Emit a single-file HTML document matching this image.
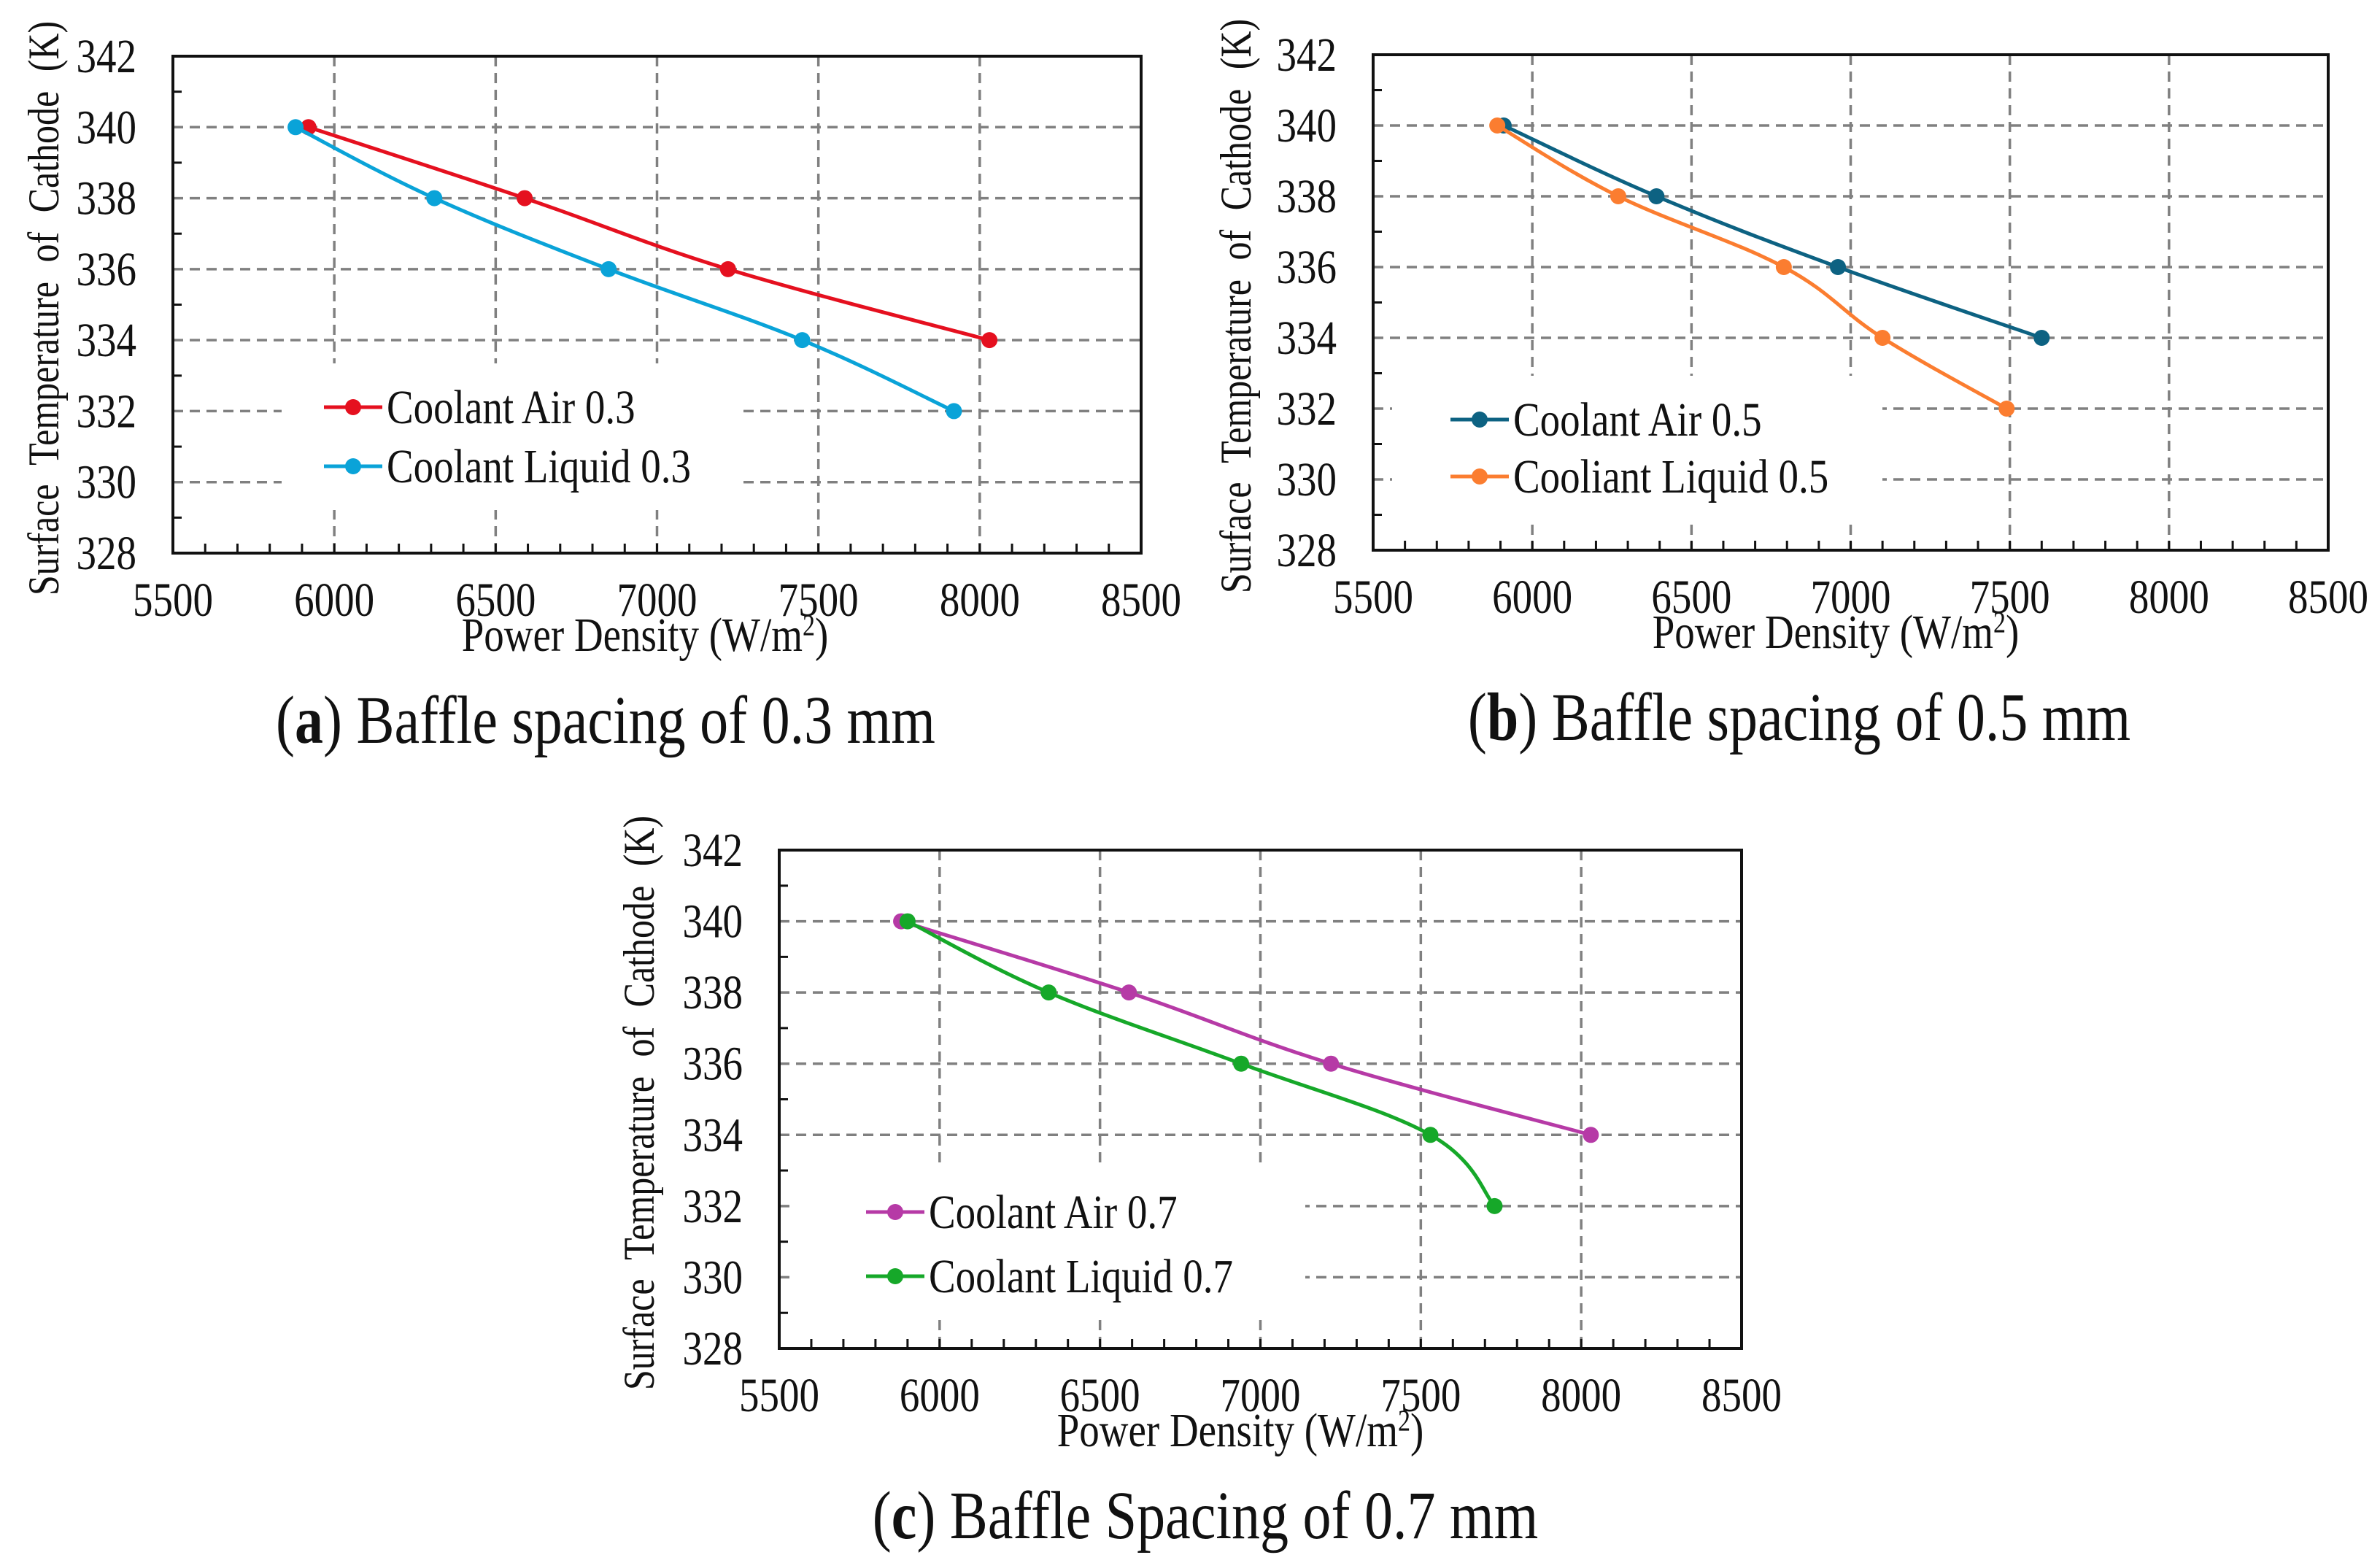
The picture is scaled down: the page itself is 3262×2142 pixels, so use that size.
<!DOCTYPE html>
<html><head><meta charset="utf-8"><style>
html,body{margin:0;padding:0;background:#fff;width:3262px;height:2142px;overflow:hidden}
svg{display:block}
text{font-family:"Liberation Serif",serif;fill:#111}
</style></head><body>
<svg id="fig" width="3262" height="2142"></svg>
<script>
const xTicks=[5500,6000,6500,7000,7500,8000,8500];
const yTicks=[328,330,332,334,336,338,340,342];
const aAirX=[5920,6590,7220,8030], aAirY=[340,338,336,334];
const aLiqX=[5880,6310,6850,7450,7920], aLiqY=[340,338,336,334,332];
const bAirX=[5910,6390,6960,7600], bAirY=[340,338,336,334];
const bLiqX=[5890,6270,6790,7100,7490], bLiqY=[340,338,336,334,332];
const cAirX=[5880,6590,7220,8030], cAirY=[340,338,336,334];
const cLiqX=[5900,6340,6940,7530,7730], cLiqY=[340,338,336,334,332];

const NS="http://www.w3.org/2000/svg";
const svg=document.getElementById('fig');
const SY=1.2;
function mk(tag,attrs,parent){const e=document.createElementNS(NS,tag);for(const k in attrs)e.setAttribute(k,attrs[k]);(parent||svg).appendChild(e);return e;}
function txt(x,y,size,anchor,parent){return mk('text',{x:0,y:0,'text-anchor':anchor,'font-size':size,transform:`translate(${x},${y}) scale(1,${SY})`},parent);}
function smooth(p){let d=`M${p[0][0]},${p[0][1]}`;for(let i=0;i<p.length-1;i++){const p0=p[i-1]||p[i],p1=p[i],p2=p[i+1],p3=p[i+2]||p2;const t=0.18;d+=` C${p1[0]+(p2[0]-p0[0])*t},${p1[1]+(p2[1]-p0[1])*t} ${p2[0]-(p3[0]-p1[0])*t},${p2[1]-(p3[1]-p1[1])*t} ${p2[0]},${p2[1]}`;}return d;}

function panel(cfg){
  const g=mk('g',{});
  
  
  const L=cfg.L,R=cfg.R,T=cfg.T,B=cfg.B;
  const sx=v=>L+(v-5500)/(8500-5500)*(R-L);
  const sy=v=>B-(v-328)/(342-328)*(B-T);
  xTicks.slice(1,-1).forEach(v=>{const l=mk('line',{x1:sx(v),x2:sx(v),y1:T,y2:B,stroke:'#808080','stroke-width':3.5,'stroke-dasharray':'14 9'},g);
    });
  yTicks.slice(1,-1).forEach(v=>{const l=mk('line',{x1:L,x2:R,y1:sy(v),y2:sy(v),stroke:'#808080','stroke-width':3.5,'stroke-dasharray':'14 9'},g);
    });
  const lb=mk('rect',{x:cfg.legX0,y:cfg.legY1-60,width:cfg.legX1-cfg.legX0,height:cfg.legY2-cfg.legY1+120,fill:'#fff'},g);
  
  for(let v=5600;v<8500;v+=100){const t=mk('line',{x1:sx(v),x2:sx(v),y1:B,y2:B-13,stroke:'#111','stroke-width':3},g);}
  for(let v=329;v<342;v+=2){const t=mk('line',{x1:L,x2:L+12,y1:sy(v),y2:sy(v),stroke:'#111','stroke-width':3},g);}
  const fr=mk('rect',{x:L,y:T,width:R-L,height:B-T,fill:'none',stroke:'#111','stroke-width':4},g);
  
  xTicks.forEach(v=>{const t=txt(sx(v),B+86,55,'middle',g);t.textContent=v;});
  yTicks.forEach(v=>{const t=txt(L-50,sy(v)+22,55,'end',g);t.textContent=v;});
  const yt=mk('text',{x:0,y:0,'text-anchor':'middle','font-size':50,'word-spacing':14,transform:`translate(${cfg.ytx},${(T+B)/2+5}) rotate(-90) scale(1,${SY})`},g);
  yt.textContent='Surface Temperature of Cathode (K)';
  const xt=txt(cfg.xtx,B+134,55,'middle',g);
  xt.innerHTML='Power Density (W/m<tspan dy="-18" font-size="34">2</tspan><tspan dy="18">)</tspan>';
  
  const cp=txt(cfg.capx,B+260,78,'middle',g);
  cp.innerHTML=`(<tspan font-weight="bold">${cfg.letter}</tspan>) ${cfg.caption}`;
  
  cfg.series.forEach((s,i)=>{
    const pts=s.x.map((v,j)=>[sx(v),sy(s.y[j])]);
    const p=mk('path',{d:smooth(pts),fill:'none',stroke:s.color,'stroke-width':5},g);
    
    pts.forEach(q=>{const c=mk('circle',{cx:q[0],cy:q[1],r:11,fill:s.color},g);});
    const ly=i===0?cfg.legY1:cfg.legY2;
    const ll=mk('line',{x1:cfg.legLx,x2:cfg.legLx+80,y1:ly,y2:ly,stroke:s.color,'stroke-width':5},g);
    
    const lm=mk('circle',{cx:cfg.legLx+40,cy:ly,r:11,fill:s.color},g);
    
    const lt=txt(cfg.legLx+86,ly+22,55,'start',g);
    lt.textContent=s.label;
  });
}
panel({name:'panel-a',letter:'a',caption:'Baffle spacing of 0.3 mm',L:237,R:1564,T:77,B:758,ytx:80,xtx:884,capx:830,
  legX0:386,legX1:1010,legY1:558,legY2:639,legLx:444,
  series:[{x:aAirX,y:aAirY,color:'#e5101f',label:'Coolant Air 0.3'},{x:aLiqX,y:aLiqY,color:'#0aa3d8',label:'Coolant Liquid 0.3'}]});
panel({name:'panel-b',letter:'b',caption:'Baffle spacing of 0.5 mm',L:1882,R:3191,T:75,B:754,ytx:1714,xtx:2516,capx:2466,
  legX0:1908,legX1:2580,legY1:575,legY2:653,legLx:1988,
  series:[{x:bAirX,y:bAirY,color:'#0d6282',label:'Coolant Air 0.5'},{x:bLiqX,y:bLiqY,color:'#fb7d30',label:'Cooliant Liquid 0.5'}]});
panel({name:'panel-c',letter:'c',caption:'Baffle Spacing of 0.7 mm',L:1068,R:2387,T:1165,B:1848,ytx:896,xtx:1700,capx:1652,
  legX0:1091,legX1:1789,legY1:1661,legY2:1749,legLx:1187,
  series:[{x:cAirX,y:cAirY,color:'#b63aa6',label:'Coolant Air 0.7'},{x:cLiqX,y:cLiqY,color:'#16a829',label:'Coolant Liquid 0.7'}]});
</script>
</body></html>
